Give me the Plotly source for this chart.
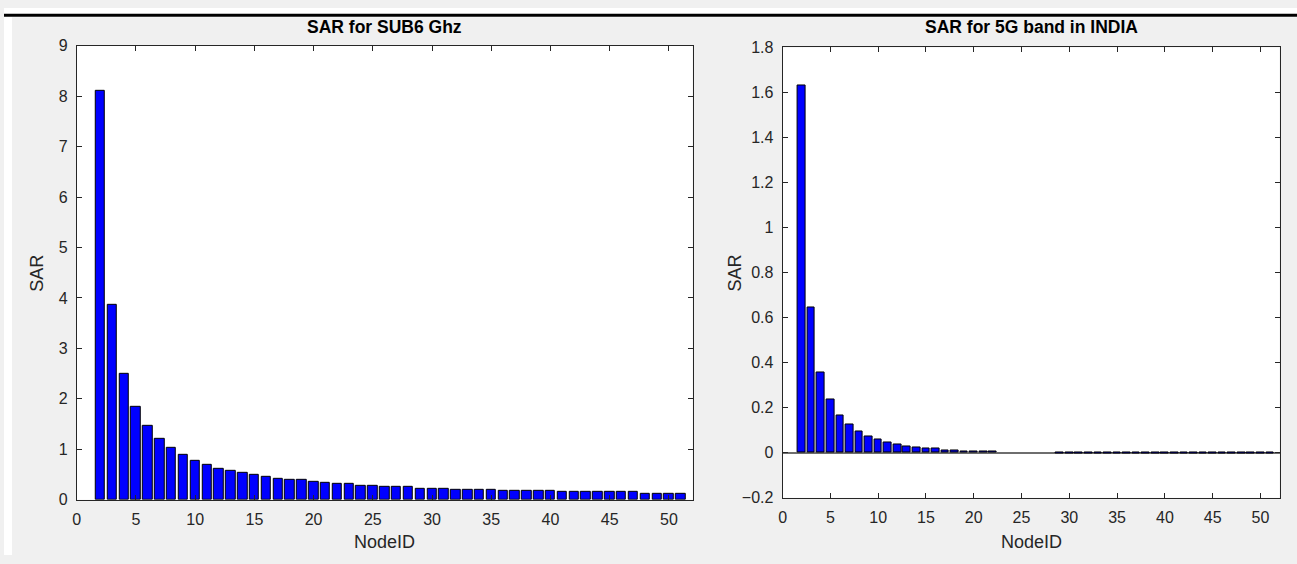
import plotly.graph_objects as go

W, H = 1297, 564

node_ids = list(range(1, 52))
sar_sub6 = [None, 8.10, 3.87, 2.50, 1.85, 1.46, 1.20, 1.02, 0.89, 0.78,
            0.70, 0.62, 0.57, 0.53, 0.49, 0.46, 0.41, 0.385, 0.385, 0.36,
            0.33, 0.31, 0.31, 0.28, 0.28, 0.25, 0.25, 0.25, 0.22, 0.22,
            0.22, 0.20, 0.20, 0.20, 0.205, 0.18, 0.18, 0.18, 0.18, 0.18,
            0.15, 0.15, 0.15, 0.15, 0.15, 0.15, 0.15, 0.12, 0.12, 0.12, 0.12]
sar_5g = [None, 1.63, 0.645, 0.356, 0.236, 0.164, 0.124, 0.094, 0.071, 0.059,
          0.047, 0.036, 0.030, 0.025, 0.018, 0.018, 0.012, 0.012, 0.007, 0.006,
          0.006, 0.006, None, None, None, None, None, None] + [-0.005] * 23

x_ticks = [0, 5, 10, 15, 20, 25, 30, 35, 40, 45, 50]
y_ticks_sub6 = [0, 1, 2, 3, 4, 5, 6, 7, 8, 9]
y_ticks_5g = [-0.2, 0, 0.2, 0.4, 0.6, 0.8, 1, 1.2, 1.4, 1.6, 1.8]

titles = ["SAR for SUB6 Ghz", "SAR for 5G band in INDIA"]
x_label = "NodeID"
y_label = "SAR"


def fx(p):
    return p / W


def fy(p):
    return 1 - p / H


FONT = "Liberation Sans, Arial, Helvetica, sans-serif"
AXC = "#262626"

# panel geometry in pixels
L = dict(x0=73, x1=690.7, y0=39, y1=507)
R = dict(x0=781, x1=1279.5, y0=40.7, y1=505)

fig = go.Figure()
fig.add_trace(go.Bar(x=node_ids, y=sar_sub6, width=0.8,
                     marker=dict(color="#0000ff", line=dict(color="black", width=1)),
                     xaxis="x", yaxis="y", showlegend=False))
fig.add_trace(go.Bar(x=node_ids, y=sar_5g, width=0.8,
                     marker=dict(color="#0000ff", line=dict(color="black", width=1)),
                     xaxis="x2", yaxis="y2", showlegend=False))

axis_common = dict(showline=True, linecolor=AXC, linewidth=1, mirror="ticks",
                   ticks="inside", ticklen=5, tickcolor=AXC, tickwidth=1,
                   showgrid=False, tickfont=dict(family=FONT, size=16, color=AXC))

fig.update_layout(
    autosize=True,
    margin=dict(l=0, r=0, t=0, b=0),
    paper_bgcolor="#f0f0f0", plot_bgcolor="white",
    bargap=0,
    xaxis=dict(domain=[fx(L["x0"]), fx(L["x1"])], range=[0, 52], tickvals=x_ticks,
               anchor="y", zeroline=False, ticklabelstandoff=5, **axis_common),
    yaxis=dict(domain=[fy(L["y1"]), fy(L["y0"])], range=[0, 9], tickvals=y_ticks_sub6,
               anchor="x", zeroline=False, ticklabelstandoff=5, **axis_common),
    xaxis2=dict(domain=[fx(R["x0"]), fx(R["x1"])], range=[0, 52], tickvals=x_ticks,
                anchor="y2", zeroline=False, ticklabelstandoff=5, **axis_common),
    yaxis2=dict(domain=[fy(R["y1"]), fy(R["y0"])], range=[-0.2, 1.8], tickvals=y_ticks_5g,
                anchor="x2", zeroline=True, zerolinecolor="#6e6e6e", zerolinewidth=1.5,
                ticklabelstandoff=5, **axis_common),
    shapes=[
        dict(type="rect", xref="paper", yref="paper", x0=0, x1=1, y0=fy(9.5), y1=1,
             fillcolor="white", line=dict(width=0), layer="below"),
        dict(type="rect", xref="paper", yref="paper", x0=0, x1=fx(8), y0=0, y1=1,
             fillcolor="white", line=dict(width=0), layer="below"),
        dict(type="line", xref="paper", yref="paper", x0=0, x1=1, y0=fy(7.5), y1=fy(7.5),
             line=dict(color="black", width=3)),
    ],
)

ann = []
for P, t in [(L, titles[0]), (R, titles[1])]:
    cx = (P["x0"] + P["x1"]) / 2
    ann.append(dict(x=fx(cx), y=fy(20), xref="paper", yref="paper", text="<b>" + t + "</b>",
                    showarrow=False, xanchor="center", yanchor="middle",
                    font=dict(family=FONT, size=17.5, color="black")))
    ann.append(dict(x=fx(cx), y=fy(551), xref="paper", yref="paper", text=x_label,
                    showarrow=False, xanchor="center", yanchor="middle",
                    font=dict(family=FONT, size=18, color=AXC)))
for cx, cy in [(33, 273), (733, 273)]:
    ann.append(dict(x=fx(cx), y=fy(cy), xref="paper", yref="paper", text=y_label,
                    showarrow=False, xanchor="center", yanchor="middle", textangle=-90,
                    font=dict(family=FONT, size=18, color=AXC)))
fig.update_layout(annotations=ann)

fig.write_html("out.html", config={"displayModeBar": False},
               default_width="%dpx; position:absolute; left:0px; top:0px" % W,
               default_height="%dpx" % H)
